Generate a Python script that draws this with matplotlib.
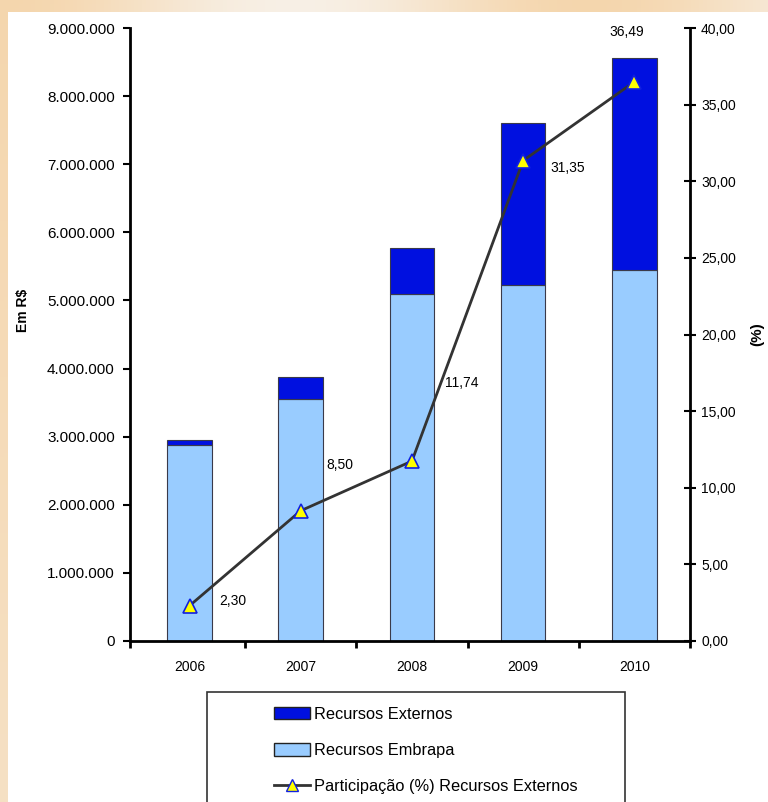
import numpy as np
import matplotlib.pyplot as plt
from matplotlib.patches import Rectangle, Patch
from matplotlib.lines import Line2D

plt.rcParams['font.family'] = ['Liberation Sans', 'DejaVu Sans']

anos = ['2006', '2007', '2008', '2009', '2010']
embrapa = [2.88e6, 3.55e6, 5.09e6, 5.22e6, 5.44e6]
externos = [0.07e6, 0.33e6, 0.68e6, 2.38e6, 3.12e6]
participacao = [2.30, 8.50, 11.74, 31.35, 36.49]
# pixel offsets of each value label from its point
label_off = [(43, 5), (39, 46), (50, 78), (45, -7), (-8, 50)]

W, H = 768, 802
fig = plt.figure(figsize=(W / 100, H / 100), dpi=100)

# warm backdrop along the top and left edges
bg = fig.add_axes([0, 0, 1, 1], zorder=-10)
xs = np.linspace(0, 1, 200)
ys = np.linspace(0, 1, 200)
gx, gy = np.meshgrid(xs, ys)
warm = np.array([0.96, 0.84, 0.68])
light = np.array([0.97, 0.94, 0.90])
mix = (0.5 + 0.5 * np.cos(2 * np.pi * gx * 1.3))[..., None] * (1 - 0.4 * gy[..., None])
img = light + (warm - light) * mix
bg.imshow(img, extent=[0, 1, 0, 1], aspect='auto')
bg.add_patch(Rectangle((8 / W, 0), 1, 1 - 12 / H, facecolor='white', edgecolor='none'))
bg.set_xlim(0, 1)
bg.set_ylim(0, 1)
bg.axis('off')

ax = fig.add_axes([130 / W, 1 - 641 / H, 560 / W, 613 / H])
ax.patch.set_alpha(0)
x = np.arange(len(anos))
ax.bar(x, embrapa, width=0.4, color='#99ccff', edgecolor='#3a3a4a', linewidth=0.8)
ax.bar(x, externos, width=0.4, bottom=embrapa, color='#0010e0', edgecolor='#3a3a4a', linewidth=0.8)
ax.set_xlim(-0.535, 4.5)
ax.set_ylim(0, 9e6)
ax.set_yticks(np.arange(0, 9.5e6, 1e6))
ax.set_yticklabels(['0'] + ['{:,}'.format(int(v)).replace(',', '.') for v in np.arange(1e6, 9.5e6, 1e6)],
                   fontsize=11)
ax.set_xticks(x)
ax.set_xticklabels(anos, fontsize=10)
ax.set_xticks([-0.535, 0.5, 1.5, 2.5, 3.5, 4.5], minor=True)
ax.tick_params(axis='x', which='major', length=0, pad=14)
ax.tick_params(axis='x', which='minor', length=5, width=2, direction='out')
ax.tick_params(axis='y', length=5, width=1.5, direction='out', pad=6)
for s in ['top', 'right']:
    ax.spines[s].set_visible(False)
for s in ['left', 'bottom']:
    ax.spines[s].set_linewidth(2)
ax.set_ylabel('Em R$', fontsize=10, fontweight='bold')
ax.yaxis.set_label_coords(-100 / 560, 0.54)

ax2 = ax.twinx()
ax2.plot(x, participacao, color='#333333', linewidth=2, marker='^', markersize=10,
         markerfacecolor='#ffff00', markeredgecolor='#1020e0', markeredgewidth=1.2, zorder=5)
ax2.set_ylim(0, 40)
ax2.set_yticks(np.arange(0, 41, 5))
ax2.set_yticklabels(['{:.2f}'.format(v).replace('.', ',') for v in np.arange(0, 41, 5)], fontsize=10)
ax2.tick_params(axis='y', length=8, width=1.5, direction='inout', pad=4)
for s in ['top', 'left', 'bottom']:
    ax2.spines[s].set_visible(False)
ax2.spines['right'].set_linewidth(2)
ax2.set_ylabel('(%)', fontsize=11, fontweight='bold', labelpad=10)

for xi, p, off in zip(x, participacao, label_off):
    ax2.annotate('{:.2f}'.format(p).replace('.', ','), (xi, p), xytext=off,
                 textcoords='offset pixels', ha='center', va='center', fontsize=10)

# legend box running off the bottom edge
bg.add_patch(Rectangle((207 / W, -0.05), 418 / W, 0.05 + 1 - 692 / H,
                       facecolor='white', edgecolor='#333333', linewidth=1.2))
handles = [Patch(facecolor='#0010e0', edgecolor='#222222'),
           Patch(facecolor='#99ccff', edgecolor='#222222'),
           Line2D([], [], color='#333333', linewidth=2, marker='^', markersize=9,
                  markerfacecolor='#ffff00', markeredgecolor='#1020e0')]
fig.legend(handles, ['Recursos Externos', 'Recursos Embrapa', 'Participação (%) Recursos Externos'],
           loc='upper left', bbox_to_anchor=(259 / W, 1 - 692 / H), frameon=False,
           fontsize=11.8, handlelength=2.2, handleheight=0.8, handletextpad=0.25, labelspacing=1.3)

fig.savefig('out.png', dpi=100)
